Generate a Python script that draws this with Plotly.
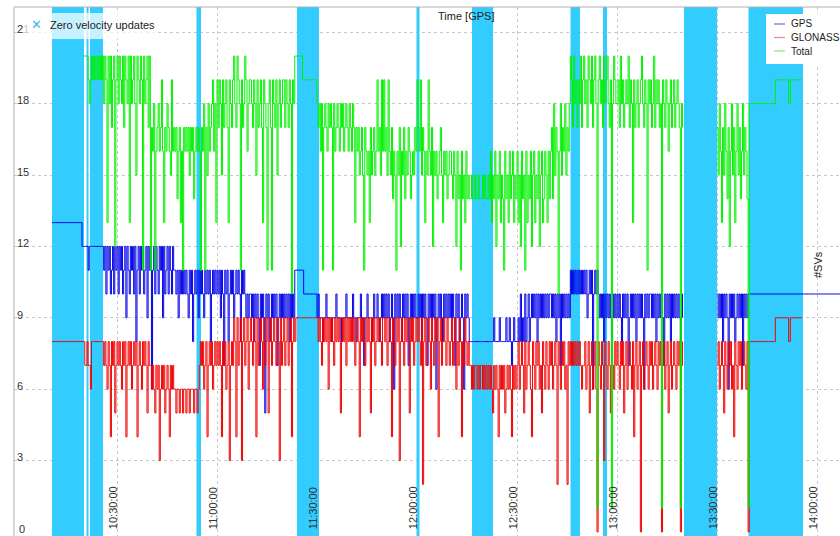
import datetime as dt
import plotly.graph_objects as go

DAY = "2024-01-01"

# Zero velocity update intervals (GPS time)
zupt_start = ["10:10:30", "10:20:51", "10:21:54", "10:53:51", "11:24:00", "11:59:51",
              "12:16:30", "12:46:03", "12:55:48", "13:20:06", "13:39:27"]
zupt_end = ["10:20:06", "10:21:27", "10:25:48", "10:55:12", "11:30:36", "12:00:45",
            "12:22:48", "12:48:54", "12:57:00", "13:30:00", "13:55:48"]

# Satellite counts, one row per 10-minute block starting at 10:10:00;
# samples inside a block are evenly spaced, None marks missing epochs.
block_start = "10:10:00"
block_seconds = 600

gps_sv = [
    [None] + [13] * 18 + [12],
    [12, 12, 12, 12, 11, 12, 12, 12, 12, 12, 12, 12, 12, 12, 12, 12, 12, 12, 11, 12, 10, 12, 11, 12, 10, 11, 12, 10, 12, 11],
    [12, 10, 12, 11, 12, 10, 11, 12, 9, 12, 11, 10, 12, 11, 12, 10, 12, 8, 11, 12, 10, 12, 11, 12, 10, 11, 12, 9, 12, 11],
    [12, 6, 11, 12, 10, 12, 11, 10, 12, 11, 12, 9, 12, 10, 11, 12, 10, 12, 11, 10, 12, 11, 11, 10, 11, 9, 11, 10, 11, 10],
    [11, 10, 11, 10, 9, 11, 10, 11, 8, 10, 11, 10, 11, 9, 11, 10, 11, 10, 9, 11, 10, 11, 10, 11, 8, 10, 11, 10, 11, 10],
    [11, 10, 11, 9, 11, 10, 7, 11, 10, 11, 8, 10, 11, 10, 11, 9, 10, 11, 10, 11, 10, 8, 11, 10, 11, 10, 9, 10, 9, 10],
    [10, 9, 10, 8, 10, 9, 10, 9, 7, 10, 9, 10, 9, 5, 10, 9, 10, 8, 9, 10, 9, 10, 9, 10, 7, 9, 10, 9, 10, 9],
    [10, 9, 10, 9, 10, 8, 10, 9, 10, 9, 11, 11, 11, 11, 11, 11, 11, 11, 10, 10, 10, 10, 10, 10, 10, 10, 10, 10, 10, 10],
    [9, 10, 9, 9, 9, 8, 9, 9, 10, 9, 9, 9, 9, 8, 9, 9, 9, 10, 9, 9, 9, 9, 8, 9, 9, 9, 10, 9, 9, 9],
    [9, 9, 10, 9, 9, 8, 9, 9, 9, 10, 9, 9, 7, 9, 9, 10, 9, 9, 9, 8, 9, 10, 9, 9, 10, 9, 8, 9, 10, 9],
    [10, 9, 10, 9, 10, 8, 9, 10, 9, 6, 10, 9, 10, 9, 10, 9, 8, 10, 9, 10, 9, 10, 7, 9, 10, 9, 10, 9, 10, 9],
    [9, 10, 9, 10, 8, 10, 9, 10, 9, 7, 10, 9, 10, 9, 10, 9, 10, 6, 9, 10, 9, 10, 9, 8, 10, 9, 10, 9, 10, 9],
    [10, 9, 10, 9, 7, 10, 9, 10, 8, 9, 10, 9, 6, 10, 9, 10, 9, 8, 8, 8, 8, 8, 8, 8, 8, 8, 8, 8, 8, 8],
    [8, 8, 8, 8, 8, 8, 8, 8, 8, 9, 8, 8, 8, 8, 9, 8, 8, 8, 8, 8, 9, 8, 8, 9, 8, 7, 8, 9, 8, 8],
    [8, 9, 8, 10, 8, 9, 8, 10, 8, 9, 10, 8, 9, 10, 9, 10, 9, 10, 8, 10, 9, 10, 9, 10, 9, 10, 9, 10, 9, 10],
    [10, 9, 10, 9, 10, 8, 10, 9, 10, 7, 10, 9, 10, 9, 10, 9, 10, 9, 11, 10, 11, 10, 11, 10, 11, 10, 11, 10, 11, 10],
    [11, 10, 11, 9, 10, 11, 10, 11, 6, 10, 11, 10, 11, 10, 9, 10, 9, 10, 8, 10, 9, 10, 9, 10, 9, 7, 10, 9, 10, 9],
    [10, 9, 10, 9, 8, 10, 9, 10, 9, 10, 7, 9, 10, 9, 10, 9, 10, 8, 10, 9, 10, 9, 10, 9, 6, 10, 9, 10, 9, 10],
    [10, 9, 10, 9, 10, 8, 10, 9, 10, 9, 10, 9, 7, 10, 9, 10, 9, 10, 8, 10, 9, 10, 9, 10, 9, 10, 9, 8, 10, 9],
    [None],
    [10, 9, 10, 9, 10, 8, 10, 9, 10, 9, 6, 10, 9, 10, 9, 10, 8, 9, 10, 9, 10, 9, 10, 7, 10, 9, 10, 9, 10, 10],
    [10] * 20,
    [10] * 20,
    [10] * 20,
]

glonass_sv = [
    [None] + [8] * 19,
    [8, 7, 7, 8, 7, 7, 6, 8, 8, 8, 8, 8, 8, 8, 8, 8, 8, 8, 7, 8, 7, 6, 8, 7, 4, 8, 7, 8, 5, 7],
    [8, 7, 8, 7, 6, 8, 7, 8, 4, 7, 8, 7, 8, 6, 7, 8, 7, 8, 4, 7, 8, 7, 6, 8, 7, 8, 7, 5, 8, 7],
    [7, 6, 7, 6, 5, 7, 6, 7, 3, 6, 7, 6, 7, 5, 6, 7, 6, 4, 7, 6, 7, 6, 6, 5, 6, 6, 5, 6, 6, 5],
    [6, 6, 5, 6, 6, 5, 6, 6, 6, 5, 6, 6, 5, 6, 7, 8, 7, 8, 6, 7, 8, 4, 7, 8, 7, 8, 6, 7, 8, 7],
    [8, 7, 8, 7, 4, 8, 7, 8, 6, 7, 8, 3, 7, 8, 7, 9, 8, 4, 9, 7, 8, 9, 3, 8, 9, 7, 8, 9, 6, 8],
    [9, 8, 7, 9, 8, 4, 9, 7, 8, 9, 8, 6, 9, 7, 8, 9, 5, 8, 9, 7, 8, 9, 8, 7, 9, 8, 3, 9, 7, 8],
    [9, 7, 8, 9, 7, 8, 9, 4, 8, 9, 8, 9] + [9] * 18,
    [9, 8, 9, 8, 7, 9, 8, 9, 8, 9, 6, 9, 8, 9, 8, 7, 9, 8, 9, 8, 9, 5, 8, 9, 8, 9, 7, 9, 8, 9],
    [8, 9, 8, 9, 7, 8, 9, 8, 4, 9, 8, 9, 8, 7, 9, 8, 9, 8, 5, 9, 8, 9, 7, 8, 9, 8, 9, 8, 7, 9],
    [9, 8, 9, 7, 8, 9, 8, 4, 9, 8, 7, 9, 8, 9, 3, 8, 9, 8, 7, 9, 8, 9, 8, 5, 9, 8, 9, 7, 8, 9],
    [8, 9, 8, 7, 9, 2, 8, 9, 7, 8, 9, 8, 6, 9, 8, 7, 9, 8, 9, 4, 8, 9, 7, 8, 9, 8, 7, 9, 8, 7],
    [8, 9, 7, 8, 9, 6, 8, 7, 9, 8, 4, 8, 7, 9, 8, 7, 8, 7, 7, 6, 7, 6, 7, 7, 6, 7, 6, 7, 7, 6],
    [7, 6, 7, 6, 7, 6, 7, 6, 5, 7, 6, 7, 6, 4, 7, 6, 7, 6, 7, 5, 6, 7, 6, 7, 6, 4, 7, 6, 7, 6],
    [7, 8, 6, 7, 8, 7, 5, 8, 6, 7, 8, 7, 6, 4, 8, 7, 6, 8, 7, 8, 6, 7, 5, 8, 7, 6, 8, 7, 6, 8],
    [7, 8, 6, 7, 8, 7, 2, 8, 7, 6, 8, 7, 8, 6, 7, 2, 8, 7, 8, 7, 8, 7, 8, 7, 8, 7, 8, 7, 6, 7],
    [7, 8, 6, 7, 8, 5, 7, 8, 6, 7, 8, 6, 0, 8, 7, 6, 8, 7, 3, 8, 7, 6, 8, 7, 5, 8, 7, 6, 8, 7],
    [8, 7, 6, 8, 7, 8, 5, 7, 8, 6, 7, 8, 7, 6, 8, 4, 7, 8, 6, 7, 8, 0, 7, 8, 6, 7, 8, 7, 6, 8],
    [7, 8, 6, 7, 8, 7, 6, 8, 7, 8, 0, 7, 8, 6, 7, 8, 5, 7, 8, 6, 7, 8, 7, 6, 8, 7, 8, 0, 7, 8],
    [None],
    [7, 8, 6, 7, 8, 7, 5, 8, 7, 6, 8, 7, 8, 6, 7, 4, 8, 7, 6, 8, 7, 8, 6, 7, 8, 7, 6, 8, 0, 8],
    [8] * 15 + [9] * 5,
    [9, 9, 9, 8, 9, 9, 9, 9, 9, 9, 9, 9] + [None] * 8,
]

total_sv = [
    [None] * 19 + [20],
    [20, 20, 20, 20, 19, 18, 19, 20, 19, 20, 19, 20, 19, 20, 19, 20, 19, 20, 18, 20, 19, 13, 20, 18, 20, 17, 19, 20, 12, 19],
    [20, 18, 20, 19, 18, 20, 17, 20, 19, 18, 20, 13, 20, 18, 19, 20, 18, 15, 20, 19, 18, 20, 19, 11, 20, 18, 19, 20, 17, 20],
    [11, 17, 16, 18, 11, 16, 17, 18, 16, 17, 19, 16, 13, 17, 16, 18, 17, 16, 15, 19, 16, 17, 16, 17, 14, 16, 17, 13, 16, 11],
    [17, 16, 17, 16, 17, 15, 17, 16, 17, 14, 16, 17, 16, 17, 16, 11, 17, 16, 18, 11, 17, 15, 18, 16, 17, 18, 19, 16, 18, 13],
    [19, 17, 19, 18, 15, 19, 17, 18, 19, 17, 13, 19, 18, 17, 19, 20, 18, 17, 20, 19, 18, 11, 19, 17, 18, 20, 19, 16, 18, 19],
    [19, 18, 17, 19, 18, 15, 19, 17, 18, 19, 17, 13, 19, 18, 17, 11, 18, 19, 17, 11, 19, 18, 17, 19, 15, 18, 19, 17, 18, 19],
    [19, 17, 19, 18, 17, 19, 18, 10, 19, 18, 20, 20, 20, 20, 20, 20, 20, 19, 19, 19, 19, 19, 19, 19, 19, 19, 19, 19, 19, 19],
    [18, 17, 18, 16, 18, 11, 17, 18, 17, 16, 18, 17, 18, 17, 11, 18, 16, 17, 18, 17, 16, 18, 17, 18, 16, 17, 18, 17, 16, 18],
    [17, 16, 18, 17, 13, 17, 16, 17, 15, 16, 17, 15, 11, 17, 16, 15, 16, 13, 17, 15, 16, 17, 15, 16, 19, 16, 17, 15, 19, 16],
    [19, 16, 17, 15, 19, 16, 15, 17, 14, 16, 15, 11, 16, 15, 17, 12, 16, 15, 17, 14, 16, 15, 17, 16, 14, 15, 16, 15, 17, 16],
    [19, 17, 16, 19, 15, 17, 16, 13, 16, 15, 19, 16, 15, 17, 12, 16, 15, 16, 14, 15, 16, 17, 15, 13, 16, 15, 16, 14, 15, 16],
    [16, 15, 14, 16, 15, 12, 16, 14, 15, 11, 16, 14, 15, 13, 16, 14, 15, 14, 14, 15, 14, 14, 15, 14, 14, 15, 14, 14, 14, 15],
    [14, 15, 14, 14, 15, 14, 16, 13, 15, 14, 16, 12, 15, 14, 16, 13, 15, 14, 11, 16, 14, 15, 13, 16, 14, 15, 16, 13, 15, 14],
    [16, 13, 15, 12, 16, 14, 15, 11, 16, 13, 15, 14, 16, 12, 15, 16, 13, 15, 14, 16, 12, 15, 16, 13, 14, 16, 15, 13, 16, 14],
    [16, 17, 14, 18, 15, 17, 16, 10, 16, 18, 15, 17, 16, 18, 15, 17, 16, 18, 20, 19, 17, 20, 18, 19, 17, 19, 18, 20, 17, 19],
    [20, 18, 19, 17, 20, 19, 18, 20, 17, 19, 20, 18, 1, 19, 20, 18, 19, 17, 20, 18, 19, 20, 18, 17, 19, 1, 18, 20, 19, 18],
    [18, 19, 17, 20, 18, 19, 17, 18, 19, 18, 20, 17, 19, 18, 13, 19, 17, 18, 19, 17, 18, 19, 20, 18, 17, 19, 18, 11, 19, 18],
    [19, 17, 18, 20, 17, 19, 18, 19, 17, 18, 1, 19, 18, 17, 19, 18, 16, 18, 19, 17, 18, 19, 17, 18, 19, 18, 17, 1, 18, 17],
    [None],
    [17, 15, 18, 16, 13, 17, 15, 18, 16, 14, 17, 12, 16, 18, 15, 17, 13, 16, 18, 15, 17, 14, 16, 18, 15, 17, 16, 14, 1, 18],
    [18] * 15 + [19] * 5,
    [19, 19, 19, 18, 19, 19, 19, 19, 19, 19, 19, 19] + [None] * 8,
]

y_ticks = [0, 3, 6, 9, 12, 15, 18, 21]

series_names = ["GPS", "GLONASS", "Total"]
series_colors = ["#0000e8", "#f00000", "#00f000"]
legend_colors = ["#6a6ad0", "#e88a8a", "#86e886"]
band_color = "#33ccff"
label_font = dict(family="Liberation Sans", size=11, color="#333333")

W, H = 840, 536
ML, MR, MT, MB = 14, 0, 7, 0
x_range = [f"{DAY} 09:59:06", f"{DAY} 14:06:54"]
y_range = [-0.17, 22.06]
label_lift = 0.13  # y labels sit slightly above their grid lines


def expand(blocks):
    t0 = dt.datetime.fromisoformat(f"{DAY} {block_start}")
    xs, ys = [], []
    for k, block in enumerate(blocks):
        start = t0 + dt.timedelta(seconds=k * block_seconds)
        step = block_seconds / len(block)
        for j, v in enumerate(block):
            xs.append(start + dt.timedelta(seconds=j * step))
            ys.append(v)
    return xs, ys


def px(x):
    return (x - ML) / (W - ML - MR)


def py(y):
    return (H - MB - y) / (H - MT - MB)


fig = go.Figure()

# zero velocity update bands, full height, under the satellite curves
bx, by = [], []
lo, hi = y_range
for s, e in zip(zupt_start, zupt_end):
    a, b = f"{DAY} {s}", f"{DAY} {e}"
    bx += [a, a, b, b, a, None]
    by += [lo, hi, hi, lo, lo, None]
fig.add_trace(go.Scatter(x=bx, y=by, mode="lines", fill="toself", fillcolor=band_color,
                         line=dict(width=0, color=band_color), hoverinfo="skip",
                         name="Zero velocity updates", showlegend=False))

for name, blocks, color in zip(series_names, [gps_sv, glonass_sv, total_sv], series_colors):
    xs, ys = expand(blocks)
    fig.add_trace(go.Scatter(x=xs, y=ys, mode="lines", name=name,
                             line=dict(color=color, width=1, shape="hv"),
                             connectgaps=False, showlegend=False))

shapes = []
annotations = []

# plot frame (top and left edges)
shapes.append(dict(type="line", xref="paper", yref="paper", x0=0, x1=1, y0=1, y1=1,
                   line=dict(color="#b0b0b0", width=1)))
shapes.append(dict(type="line", xref="paper", yref="paper", x0=0, x1=0, y0=0, y1=1,
                   line=dict(color="#b0b0b0", width=1)))

# zero-velocity legend box
shapes.append(dict(type="rect", xref="paper", yref="paper", x0=px(24), x1=px(156),
                   y0=py(39), y1=py(13), fillcolor="rgba(255,255,255,0.72)", line_width=0))
annotations.append(dict(text="✕", xref="paper", yref="paper", x=px(36), y=py(25),
                        xanchor="center", yanchor="middle", showarrow=False,
                        font=dict(family="DejaVu Sans", size=13, color="#33bbee")))
annotations.append(dict(text="Zero velocity updates", xref="paper", yref="paper",
                        x=px(48), y=py(25), xanchor="left", yanchor="middle", showarrow=False,
                        font=dict(family="Liberation Sans", size=11, color="#222222")))

# series legend box
shapes.append(dict(type="rect", xref="paper", yref="paper", x0=px(766), x1=1,
                   y0=py(64), y1=py(14), fillcolor="white", line_width=0))
for i, (name, lc) in enumerate(zip(series_names, legend_colors)):
    yy = 24 + i * 13.5
    shapes.append(dict(type="line", xref="paper", yref="paper", x0=px(774), x1=px(785),
                       y0=py(yy), y1=py(yy), line=dict(color=lc, width=1.2)))
    annotations.append(dict(text=name, xref="paper", yref="paper", x=px(789), y=py(yy),
                            xanchor="left", yanchor="middle", showarrow=False,
                            font=dict(family="Liberation Sans", size=10, color="#222222")))

annotations.append(dict(text="Time [GPS]", xref="paper", yref="paper", x=px(466), y=py(16),
                        xanchor="center", yanchor="middle", showarrow=False,
                        font=dict(family="Liberation Sans", size=11, color="#222222")))
annotations.append(dict(text="#SVs", xref="paper", yref="paper", x=px(818), y=py(265),
                        xanchor="center", yanchor="middle", showarrow=False, textangle=-90,
                        font=dict(family="Liberation Sans", size=11, color="#222222")))

# the bottom value label sits in the corner shared with the time labels,
# so it is placed as text on the y scale
annotations.append(dict(text=str(y_ticks[0]), xref="paper", yref="y", x=px(17),
                        y=y_ticks[0] + label_lift, xanchor="left", yanchor="middle",
                        showarrow=False, font=label_font))

fig.update_layout(
    width=W, height=H,
    margin=dict(l=ML, r=MR, t=MT, b=MB, pad=0),
    paper_bgcolor="white", plot_bgcolor="white",
    shapes=shapes,
    annotations=annotations,
    showlegend=False,
    xaxis=dict(type="date", range=x_range, tickformat="%H:%M:%S", dtick=1800000,
               tick0=f"{DAY} 10:00:00", tickangle=-90, ticklabelposition="inside",
               ticklabelshift=-4, ticks="", showline=False, zeroline=False,
               showgrid=True, gridcolor="#c8c8c8", griddash="dot", gridwidth=1,
               tickfont=label_font),
    yaxis=dict(range=y_range, tickvals=[v + label_lift for v in y_ticks[1:]],
               ticktext=[str(v) for v in y_ticks[1:]], ticklabelposition="inside", ticks="",
               showline=False, zeroline=False, showgrid=False,
               minor=dict(tickvals=y_ticks, showgrid=True, gridcolor="#c8c8c8",
                          griddash="dot", gridwidth=1, ticks=""),
               tickfont=label_font),
)

fig.write_html("out.html")
